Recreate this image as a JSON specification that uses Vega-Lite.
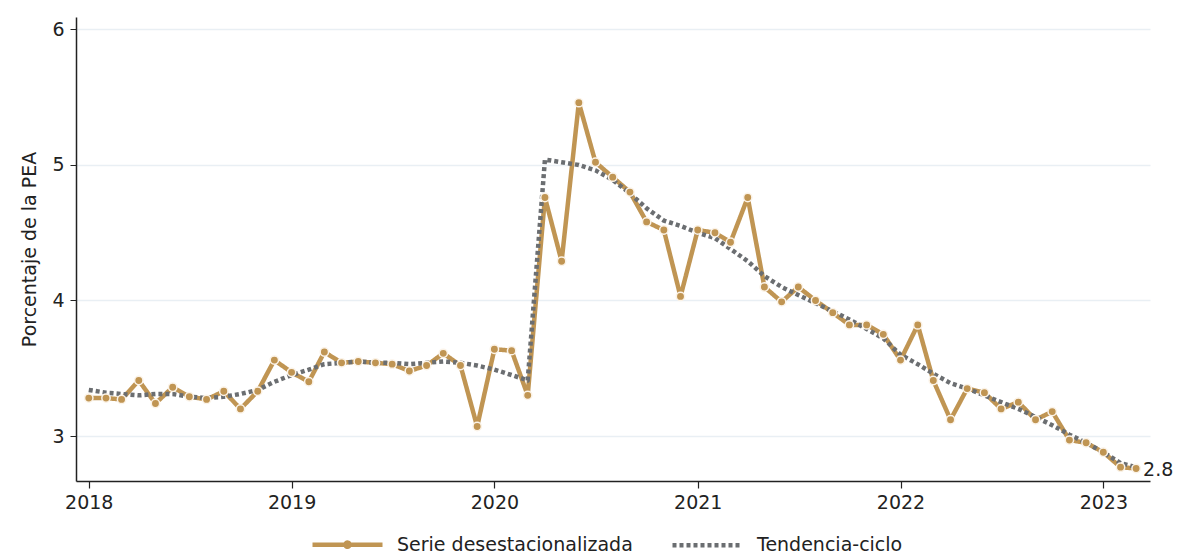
{
  "$schema": "https://vega.github.io/schema/vega-lite/v6.json",
  "width": 1074,
  "height": 464,
  "autosize": {"type": "none"},
  "padding": {"left": 76, "top": 17, "right": 34, "bottom": 75},
  "background": "white",
  "config": {
    "font": "DejaVu Sans",
    "view": {"stroke": null}
  },
  "data": {
    "values": [
      {"fecha": "2018-01-01", "serie": 3.28, "tend": 3.34},
      {"fecha": "2018-02-01", "serie": 3.28, "tend": 3.32},
      {"fecha": "2018-03-01", "serie": 3.27, "tend": 3.31},
      {"fecha": "2018-04-01", "serie": 3.41, "tend": 3.30},
      {"fecha": "2018-05-01", "serie": 3.24, "tend": 3.31},
      {"fecha": "2018-06-01", "serie": 3.36, "tend": 3.31},
      {"fecha": "2018-07-01", "serie": 3.29, "tend": 3.29},
      {"fecha": "2018-08-01", "serie": 3.27, "tend": 3.28},
      {"fecha": "2018-09-01", "serie": 3.33, "tend": 3.29},
      {"fecha": "2018-10-01", "serie": 3.20, "tend": 3.31},
      {"fecha": "2018-11-01", "serie": 3.33, "tend": 3.34},
      {"fecha": "2018-12-01", "serie": 3.56, "tend": 3.40},
      {"fecha": "2019-01-01", "serie": 3.47, "tend": 3.45},
      {"fecha": "2019-02-01", "serie": 3.40, "tend": 3.49},
      {"fecha": "2019-03-01", "serie": 3.62, "tend": 3.53},
      {"fecha": "2019-04-01", "serie": 3.54, "tend": 3.54},
      {"fecha": "2019-05-01", "serie": 3.55, "tend": 3.55},
      {"fecha": "2019-06-01", "serie": 3.54, "tend": 3.54},
      {"fecha": "2019-07-01", "serie": 3.53, "tend": 3.54},
      {"fecha": "2019-08-01", "serie": 3.48, "tend": 3.53},
      {"fecha": "2019-09-01", "serie": 3.52, "tend": 3.54},
      {"fecha": "2019-10-01", "serie": 3.61, "tend": 3.55},
      {"fecha": "2019-11-01", "serie": 3.52, "tend": 3.54},
      {"fecha": "2019-12-01", "serie": 3.07, "tend": 3.52},
      {"fecha": "2020-01-01", "serie": 3.64, "tend": 3.49},
      {"fecha": "2020-02-01", "serie": 3.63, "tend": 3.45},
      {"fecha": "2020-03-01", "serie": 3.30, "tend": 3.41},
      {"fecha": "2020-04-01", "serie": 4.76, "tend": 5.04},
      {"fecha": "2020-05-01", "serie": 4.29, "tend": 5.02},
      {"fecha": "2020-06-01", "serie": 5.46, "tend": 5.00},
      {"fecha": "2020-07-01", "serie": 5.02, "tend": 4.96},
      {"fecha": "2020-08-01", "serie": 4.91, "tend": 4.89},
      {"fecha": "2020-09-01", "serie": 4.80, "tend": 4.79},
      {"fecha": "2020-10-01", "serie": 4.58, "tend": 4.68},
      {"fecha": "2020-11-01", "serie": 4.52, "tend": 4.59},
      {"fecha": "2020-12-01", "serie": 4.03, "tend": 4.55},
      {"fecha": "2021-01-01", "serie": 4.52, "tend": 4.50},
      {"fecha": "2021-02-01", "serie": 4.50, "tend": 4.46},
      {"fecha": "2021-03-01", "serie": 4.43, "tend": 4.38},
      {"fecha": "2021-04-01", "serie": 4.76, "tend": 4.29},
      {"fecha": "2021-05-01", "serie": 4.10, "tend": 4.18},
      {"fecha": "2021-06-01", "serie": 3.99, "tend": 4.10},
      {"fecha": "2021-07-01", "serie": 4.10, "tend": 4.04},
      {"fecha": "2021-08-01", "serie": 4.00, "tend": 3.98},
      {"fecha": "2021-09-01", "serie": 3.91, "tend": 3.92},
      {"fecha": "2021-10-01", "serie": 3.82, "tend": 3.86},
      {"fecha": "2021-11-01", "serie": 3.82, "tend": 3.79},
      {"fecha": "2021-12-01", "serie": 3.75, "tend": 3.72},
      {"fecha": "2022-01-01", "serie": 3.56, "tend": 3.60},
      {"fecha": "2022-02-01", "serie": 3.82, "tend": 3.53},
      {"fecha": "2022-03-01", "serie": 3.41, "tend": 3.46},
      {"fecha": "2022-04-01", "serie": 3.12, "tend": 3.39},
      {"fecha": "2022-05-01", "serie": 3.35, "tend": 3.35},
      {"fecha": "2022-06-01", "serie": 3.32, "tend": 3.30},
      {"fecha": "2022-07-01", "serie": 3.20, "tend": 3.25},
      {"fecha": "2022-08-01", "serie": 3.25, "tend": 3.20},
      {"fecha": "2022-09-01", "serie": 3.12, "tend": 3.14},
      {"fecha": "2022-10-01", "serie": 3.18, "tend": 3.08},
      {"fecha": "2022-11-01", "serie": 2.97, "tend": 3.01},
      {"fecha": "2022-12-01", "serie": 2.95, "tend": 2.95},
      {"fecha": "2023-01-01", "serie": 2.88, "tend": 2.88},
      {"fecha": "2023-02-01", "serie": 2.77, "tend": 2.80},
      {"fecha": "2023-03-01", "serie": 2.76, "tend": 2.77}
    ]
  },
  "transform": [
    {"fold": ["serie", "tend"], "as": ["key", "valor"]},
    {"calculate": "datum.key === 'serie' ? 'Serie desestacionalizada' : 'Tendencia-ciclo'", "as": "Serie"}
  ],
  "encoding": {
    "x": {
      "field": "fecha",
      "type": "temporal",
      "scale": {
        "type": "utc",
        "domain": [
          {"year": 2017, "month": 12, "date": 9, "utc": true},
          {"year": 2023, "month": 3, "date": 26, "utc": true}
        ]
      },
      "axis": {
        "title": null,
        "format": "%Y",
        "values": [
          {"year": 2018, "month": 1, "date": 1, "utc": true},
          {"year": 2019, "month": 1, "date": 1, "utc": true},
          {"year": 2020, "month": 1, "date": 1, "utc": true},
          {"year": 2021, "month": 1, "date": 1, "utc": true},
          {"year": 2022, "month": 1, "date": 1, "utc": true},
          {"year": 2023, "month": 1, "date": 1, "utc": true}
        ],
        "grid": false,
        "domainColor": "#222222",
        "domainWidth": 1.5,
        "tickColor": "#222222",
        "tickSize": 7,
        "tickWidth": 1.2,
        "labelFontSize": 19,
        "labelColor": "#222222",
        "labelPadding": 5,
        "labelFlush": false
      }
    },
    "y": {
      "field": "valor",
      "type": "quantitative",
      "scale": {"domain": [2.668, 6.092], "nice": false, "zero": false},
      "axis": {
        "title": "Porcentaje de la PEA",
        "titleFontSize": 19,
        "titleFontWeight": "normal",
        "titleColor": "#222222",
        "titlePadding": 12,
        "values": [3, 4, 5, 6],
        "grid": true,
        "gridColor": "#e9eff4",
        "gridWidth": 1.5,
        "domainColor": "#222222",
        "domainWidth": 1.5,
        "tickColor": "#222222",
        "tickSize": 6,
        "labelFontSize": 19,
        "labelColor": "#222222",
        "labelPadding": 6
      }
    }
  },
  "layer": [
    {
      "mark": {"type": "line", "strokeWidth": 4.5, "strokeCap": "butt", "strokeJoin": "round"},
      "encoding": {
        "color": {
          "field": "Serie",
          "type": "nominal",
          "scale": {"domain": ["Serie desestacionalizada", "Tendencia-ciclo"], "range": ["#c09553", "#6b6e71"]},
          "legend": {
            "title": null,
            "orient": "none",
            "legendX": 234,
            "legendY": 490,
            "direction": "horizontal",
            "symbolType": "stroke",
            "symbolSize": 4900,
            "symbolStrokeWidth": 4.5,
            "labelFontSize": 19,
            "labelLimit": 400,
            "labelColor": "#222222",
            "columnPadding": 30,
            "labelOffset": 12,
            "encode": {
              "symbols": {
                "update": {
                  "shape": {"signal": "datum.value === 'Serie desestacionalizada' ? 'M-1,0L1,0M0.06,0A0.06,0.06 0 1 1 -0.06,0A0.06,0.06 0 1 1 0.06,0Z' : 'stroke'"}
                }
              }
            }
          }
        },
        "strokeDash": {
          "field": "Serie",
          "type": "nominal",
          "scale": {"domain": ["Serie desestacionalizada", "Tendencia-ciclo"], "range": [[1, 0], [4, 3]]}
        },
        "order": {"field": "Serie", "sort": "ascending"}
      }
    },
    {
      "transform": [{"filter": "datum.key === 'serie'"}],
      "mark": {"type": "point", "filled": true, "size": 70, "color": "#c09553", "stroke": "#fbf3e8", "strokeWidth": 1.5, "opacity": 1}
    },
    {
      "transform": [{"filter": "datum.key === 'serie' && utcyear(toDate(datum.fecha)) === 2023 && utcmonth(toDate(datum.fecha)) === 2"}],
      "mark": {"type": "text", "align": "left", "baseline": "middle", "dx": 7, "dy": 1, "fontSize": 19, "color": "#222222"},
      "encoding": {"text": {"field": "valor", "type": "quantitative", "format": ".1f"}}
    }
  ]
}
